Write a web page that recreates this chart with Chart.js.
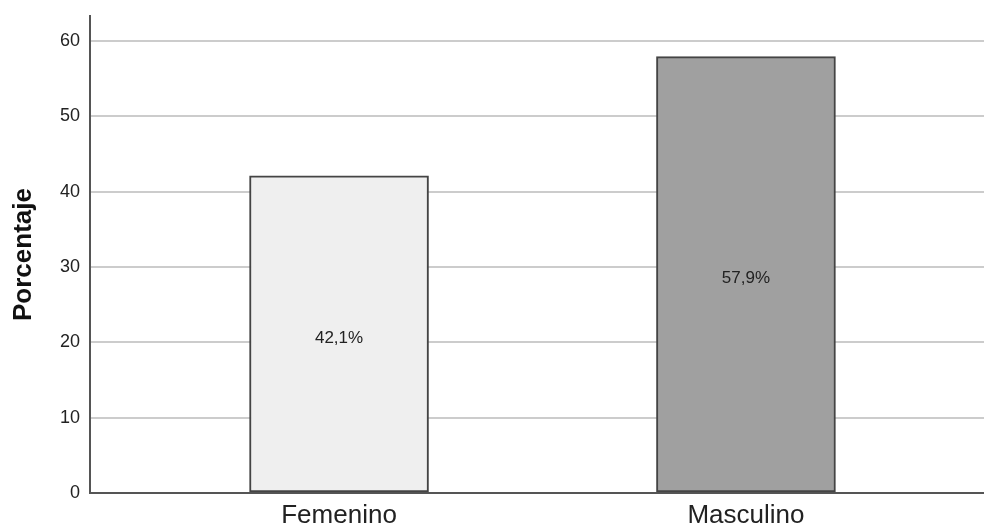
<!DOCTYPE html>
<html><head><meta charset="utf-8">
<script src="https://cdn.jsdelivr.net/npm/chart.js@4/dist/chart.umd.min.js"></script>
<style>html,body{margin:0;padding:0;background:#fff;}#wrap{width:984px;height:530px;}</style>
</head><body><div id="wrap"><canvas id="c"></canvas></div>
<script>
const categories = ["Femenino", "Masculino"];
const percentages = [42.1, 57.9];
const valueLabels = ["42,1%", "57,9%"];
const barColors = ["#efefef", "#a0a0a0"];
const yTicks = [0, 10, 20, 30, 40, 50, 60];

const FONT = '"Liberation Sans", Arial, sans-serif';

const labelPlugin = {
  id: 'barLabels',
  afterDatasetsDraw(chart) {
    const ctx = chart.ctx;
    const meta = chart.getDatasetMeta(0);
    ctx.save();
    ctx.font = '17px ' + FONT;
    ctx.fillStyle = '#222';
    ctx.textAlign = 'center';
    ctx.textBaseline = 'middle';
    meta.data.forEach((bar, i) => {
      const mid = (bar.y + bar.base) / 2;
      ctx.fillText(valueLabels[i], bar.x, mid + 4);
    });
    ctx.restore();
  }
};

new Chart(document.getElementById('c'), {
  type: 'bar',
  data: {
    datasets: [{
      data: categories.map((c, i) => ({x: i + 1, y: percentages[i]})),
      backgroundColor: barColors,
      borderColor: '#444',
      borderWidth: 2,
      borderSkipped: false,
      barThickness: 179
    }]
  },
  options: {
    responsive: true,
    maintainAspectRatio: false,
    animation: false,
    layout: { padding: { top: 16, right: 0, left: 0, bottom: 0 } },
    plugins: { legend: { display: false }, tooltip: { enabled: false } },
    scales: {
      x: {
        type: 'linear',
        offset: false,
        min: 0.388,
        max: 2.585,
        afterBuildTicks: s => { s.ticks = categories.map((c, i) => ({value: i + 1})); },
        afterFit: s => { s.height = 37; s.paddingLeft = 0; s.paddingRight = 0; },
        grid: { display: false, drawTicks: false },
        border: { display: true, color: '#555', width: 2 },
        ticks: {
          callback: v => categories[v - 1],
          font: { family: FONT, size: 26 },
          color: '#222',
          padding: 7,
          maxRotation: 0,
          autoSkip: false
        }
      },
      y: {
        min: 0,
        max: 63.3,
        afterBuildTicks: s => { s.ticks = yTicks.map(v => ({value: v})); },
        afterFit: s => { s.width = 90; s.paddingTop = 0; s.paddingBottom = 0; },
        grid: { color: '#cccccc', lineWidth: 2, drawTicks: false },
        border: { display: true, color: '#555', width: 2 },
        ticks: {
          font: { family: FONT, size: 18 },
          color: '#222',
          padding: 10
        },
        title: {
          display: true,
          text: 'Porcentaje',
          font: { family: FONT, size: 26, weight: 'bold' },
          color: '#111',
          padding: { top: 8, bottom: 0 }
        }
      }
    }
  },
  plugins: [labelPlugin]
});
</script></body></html>
